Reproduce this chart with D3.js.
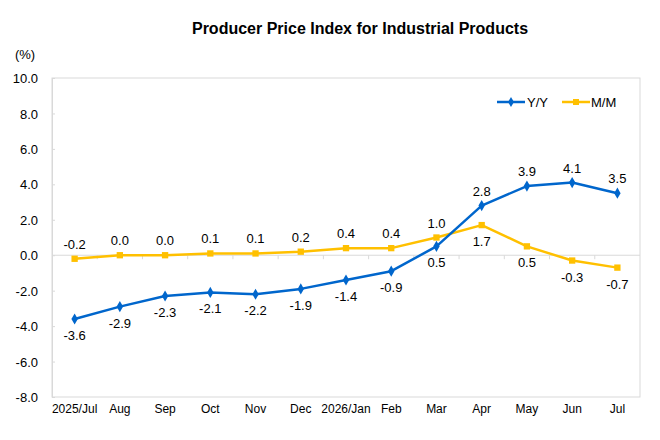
<!DOCTYPE html>
<html><head><meta charset="utf-8">
<script src="https://cdn.jsdelivr.net/npm/d3@7/dist/d3.min.js"></script>
<style>body{margin:0;background:#fff}svg{display:block;font-family:"Liberation Sans",Arial,sans-serif}</style>
</head><body><svg id="c" width="660" height="440"></svg>
<script>
const categories=["2025/Jul","Aug","Sep","Oct","Nov","Dec","2026/Jan","Feb","Mar","Apr","May","Jun","Jul"];
const yoy=[-3.6,-2.9,-2.3,-2.1,-2.2,-1.9,-1.4,-0.9,0.5,2.8,3.9,4.1,3.5];
const mom=[-0.2,0.0,0.0,0.1,0.1,0.2,0.4,0.4,1.0,1.7,0.5,-0.3,-0.7];
const yTicks=[10,8,6,4,2,0,-2,-4,-6,-8];
// label placement: 1 = above, -1 = below
const yoyPos=[-1,-1,-1,-1,-1,-1,-1,-1,-1,1,1,1,1];
const momPos=[1,1,1,1,1,1,1,1,1,-1,-1,-1,-1];

const fmt=v=>d3.format(".1f")(v).replace("\u2212","-");
const svg=d3.select("#c");
const L=52,R=640,T=78,B=397;
const x=d3.scaleBand().domain(categories).range([L,R]);
const y=d3.scaleLinear().domain([-8,10]).range([B,T]);
const blue="#0066CC",yellow="#FFC000";

svg.append("text").attr("x",360).attr("y",34).attr("text-anchor","middle")
  .attr("font-size",16).attr("font-weight","bold").text("Producer Price Index for Industrial Products");
svg.append("text").attr("x",25).attr("y",59).attr("text-anchor","middle").attr("font-size",13).text("(%)");

// frame
svg.append("rect").attr("x",L).attr("y",T).attr("width",R-L).attr("height",B-T)
  .attr("fill","none").attr("stroke","#d9d9d9").attr("stroke-width",1);

// y axis
const ya=svg.append("g").attr("transform",`translate(${L},0)`)
  .call(d3.axisLeft(y).tickValues(yTicks).tickFormat(fmt).tickSizeInner(-3).tickSizeOuter(0).tickPadding(14));
ya.select(".domain").attr("stroke","#d9d9d9");
ya.selectAll(".tick line").attr("stroke","#d9d9d9");
ya.selectAll(".tick text").attr("font-size",13).attr("fill","#000").attr("font-family","Liberation Sans, Arial, sans-serif").attr("dy","0.35em");

// zero line with ticks at category boundaries
const xa=svg.append("g").attr("transform",`translate(0,${y(0)})`);
xa.append("line").attr("x1",L).attr("x2",R).attr("stroke","#d9d9d9");
xa.selectAll("line.t").data(categories.slice(1)).join("line").attr("class","t")
  .attr("x1",d=>x(d)).attr("x2",d=>x(d)).attr("y1",0).attr("y2",4).attr("stroke","#d9d9d9");

// category labels
svg.append("g").selectAll("text").data(categories).join("text")
  .attr("x",d=>x(d)+x.bandwidth()/2).attr("y",413).attr("text-anchor","middle")
  .attr("font-size",12).text(d=>d);

const cx=(d,i)=>x(categories[i])+x.bandwidth()/2;
const line=d3.line().x(cx).y(d=>y(d));

function series(data,color,sym,size,pos){
  const g=svg.append("g");
  g.append("path").datum(data).attr("d",line).attr("fill","none").attr("stroke",color).attr("stroke-width",2.5).attr("stroke-linejoin","round");
  g.selectAll("path.m").data(data).join("path").attr("class","m")
    .attr("transform",(d,i)=>`translate(${cx(d,i)},${y(d)})`)
    .attr("d",d3.symbol().type(sym).size(size)).attr("fill",color);
  g.selectAll("text").data(data).join("text")
    .attr("x",(d,i)=>cx(d,i)).attr("y",(d,i)=>y(d)+(pos[i]>0?-10:21))
    .attr("text-anchor","middle").attr("font-size",13).text(d=>fmt(d));
}
series(mom,yellow,d3.symbolSquare,40,momPos);
series(yoy,blue,d3.symbolDiamond,36,yoyPos);

// legend
const lg=svg.append("g");
lg.append("line").attr("x1",497).attr("x2",525).attr("y1",102).attr("y2",102).attr("stroke",blue).attr("stroke-width",2.5);
lg.append("path").attr("transform","translate(511,102)").attr("d",d3.symbol().type(d3.symbolDiamond).size(30)).attr("fill",blue);
lg.append("text").attr("x",527).attr("y",107).attr("font-size",13).text("Y/Y");
lg.append("line").attr("x1",562).attr("x2",590).attr("y1",102).attr("y2",102).attr("stroke",yellow).attr("stroke-width",2.5);
lg.append("path").attr("transform","translate(576,102)").attr("d",d3.symbol().type(d3.symbolSquare).size(36)).attr("fill",yellow);
lg.append("text").attr("x",591).attr("y",107).attr("font-size",13).text("M/M");
</script></body></html>
